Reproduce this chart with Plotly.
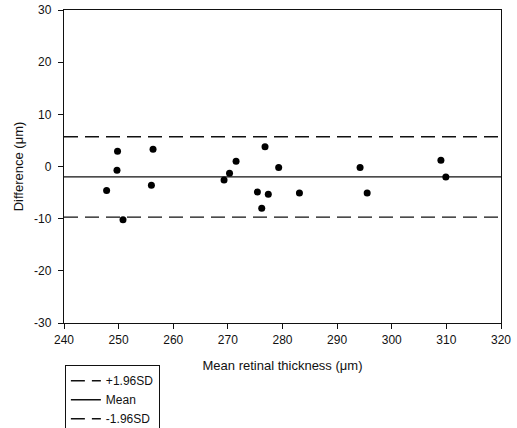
import plotly.graph_objects as go

# Bland-Altman data: mean retinal thickness vs. difference between measurements (µm)
mean_thickness = [247.8, 249.7, 249.8, 250.8, 256.3, 256.0, 269.3, 270.3, 271.5,
                  275.4, 276.2, 276.8, 277.4, 279.3, 283.1, 294.2, 295.5, 309.0, 309.9]
difference = [-4.6, -0.7, 2.9, -10.2, 3.3, -3.6, -2.6, -1.3, 1.0,
              -4.9, -8.0, 3.8, -5.3, -0.2, -5.1, -0.2, -5.1, 1.2, -2.0]

mean_diff = -2.0
upper_loa = 5.7
lower_loa = -9.7

x_range = [240, 320]
y_range = [-30, 30]
x_ticks = [240, 250, 260, 270, 280, 290, 300, 310, 320]
y_ticks = [-30, -20, -10, 0, 10, 20, 30]
y_tick_labels = ["-30", "-20", "-10", "0", "10", "20", "30"]

FONT = "Liberation Sans, Arial, sans-serif"
DASH = "14px,7px"

fig = go.Figure()

fig.add_trace(go.Scatter(
    x=x_range, y=[upper_loa, upper_loa], mode="lines", name="+1.96SD",
    line=dict(color="#111", width=1.3, dash=DASH)))
fig.add_trace(go.Scatter(
    x=x_range, y=[mean_diff, mean_diff], mode="lines", name="Mean",
    line=dict(color="#111", width=1.3)))
fig.add_trace(go.Scatter(
    x=x_range, y=[lower_loa, lower_loa], mode="lines", name="-1.96SD",
    line=dict(color="#111", width=1.3, dash=DASH)))
fig.add_trace(go.Scatter(
    x=mean_thickness, y=difference, mode="markers", showlegend=False,
    marker=dict(color="#000", size=7)))

axis_common = dict(
    showgrid=False, zeroline=False, showline=True, linecolor="#111",
    linewidth=1.3, mirror=True, ticks="outside", ticklen=5, tickwidth=1,
    tickcolor="#111", tickfont=dict(family=FONT, size=12, color="#111"),
)

fig.update_xaxes(
    range=x_range, tickvals=x_ticks, **axis_common,
    title=dict(text="Mean retinal thickness (μm)",
               font=dict(family=FONT, size=13, color="#111"), standoff=15),
)
fig.update_yaxes(
    range=y_range, tickvals=y_ticks, ticktext=y_tick_labels,
    ticklabelstandoff=4, **axis_common,
    title=dict(text="Difference (μm)",
               font=dict(family=FONT, size=13, color="#111"), standoff=7),
)

fig.update_layout(
    width=517, height=428,
    margin=dict(l=64, r=16, t=10, b=105, autoexpand=False),
    paper_bgcolor="white", plot_bgcolor="white",
    showlegend=True,
    legend=dict(
        x=0.002, y=-0.135, xanchor="left", yanchor="top",
        bordercolor="#111", borderwidth=1, bgcolor="white",
        font=dict(family=FONT, size=12, color="#111"),
        tracegroupgap=0, itemwidth=30, entrywidth=60,
    ),
)

fig.write_html("out.html")
